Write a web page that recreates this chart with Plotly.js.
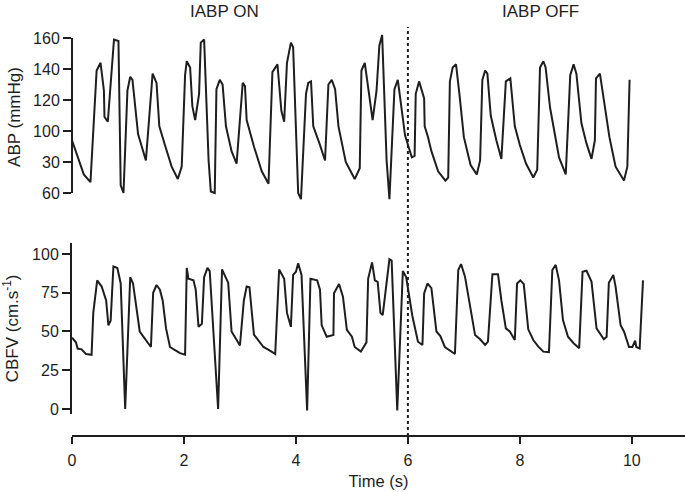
<!DOCTYPE html>
<html>
<head>
<meta charset="utf-8">
<script src="https://cdn.plot.ly/plotly-3.0.1.min.js"></script>
<style>
  html, body { margin: 0; padding: 0; background: #fff; }
  #chart { width: 685px; height: 492px; }
</style>
</head>
<body>
<div id="chart"></div>
<script>
// ABP trace (mmHg) against time (s)
const abpTime = [0, 0.21, 0.33, 0.44, 0.51, 0.57, 0.58, 0.64, 0.75, 0.83, 0.87, 0.92, 0.99, 1.04, 1.08, 1.18, 1.32,
  1.44, 1.51, 1.56, 1.66, 1.78, 1.89, 1.96, 2.02, 2.05, 2.11, 2.15, 2.20, 2.27, 2.30, 2.36, 2.44, 2.48, 2.55,
  2.58, 2.64, 2.69, 2.75, 2.85, 2.94, 3.05, 3.09, 3.12, 3.25, 3.39, 3.51, 3.58, 3.67, 3.74, 3.79, 3.84, 3.91,
  3.95, 4.04, 4.09, 4.18, 4.22, 4.27, 4.31, 4.42, 4.52, 4.58, 4.64, 4.70, 4.76, 4.89, 5.05, 5.14, 5.17, 5.23,
  5.29, 5.37, 5.44, 5.49, 5.54, 5.62, 5.67, 5.76, 5.82, 5.87, 5.95, 6.07, 6.12, 6.14, 6.20, 6.29, 6.30, 6.36,
  6.42, 6.54, 6.67, 6.72, 6.75, 6.80, 6.86, 6.92, 7.00, 7.12, 7.23, 7.29, 7.33, 7.38, 7.42, 7.48, 7.58, 7.67,
  7.75, 7.83, 7.91, 8.00, 8.11, 8.24, 8.31, 8.36, 8.42, 8.46, 8.54, 8.70, 8.82, 8.90, 8.96, 9.01, 9.10, 9.19,
  9.28, 9.34, 9.36, 9.43, 9.50, 9.60, 9.71, 9.86, 9.92, 9.96];
const abpValues = [94, 72, 67, 139, 144, 126, 109, 106, 159, 158, 65, 60, 126, 135, 133, 98, 81,
  137, 131, 103, 91, 77, 69, 77, 136, 145, 141, 116, 107, 124, 157, 159, 81, 61, 60,
  127, 133, 130, 103, 87, 79, 131, 129, 107, 90, 74, 66, 138, 143, 113, 106, 144, 157,
  154, 60, 56, 124, 131, 132, 103, 92, 81, 130, 133, 127, 103, 80, 69, 76, 139, 144,
  129, 107, 126, 155, 162, 81, 56, 127, 133, 120, 97, 83, 84, 124, 132, 121, 103, 96,
  87, 74, 68, 70, 132, 141, 143, 124, 96, 78, 72, 81, 133, 139, 137, 110, 94, 82,
  132, 134, 103, 91, 79, 70, 75, 141, 145, 141, 115, 83, 72, 136, 143, 137, 105, 92,
  82, 94, 134, 137, 120, 96, 77, 68, 77, 133];

// CBFV trace (cm/s) against time (s)
const cbfvTime = [0, 0.07, 0.10, 0.17, 0.25, 0.35, 0.38, 0.45, 0.53, 0.61, 0.65, 0.69, 0.74, 0.81, 0.87, 0.95,
  1.04, 1.09, 1.21, 1.38, 1.41, 1.45, 1.51, 1.57, 1.62, 1.68, 1.75, 1.84, 1.93, 2.02, 2.05, 2.08, 2.17, 2.21,
  2.26, 2.32, 2.36, 2.42, 2.46, 2.61, 2.68, 2.79, 2.85, 3.00, 3.07, 3.12, 3.17, 3.25, 3.36, 3.42, 3.52, 3.63,
  3.70, 3.79, 3.84, 3.91, 3.95, 4.00, 4.04, 4.10, 4.20, 4.26, 4.38, 4.43, 4.46, 4.55, 4.67, 4.68, 4.77, 4.84,
  4.91, 5.00, 5.05, 5.16, 5.26, 5.29, 5.36, 5.41, 5.46, 5.51, 5.55, 5.67, 5.71, 5.81, 5.91, 5.97, 6.08, 6.18,
  6.26, 6.29, 6.35, 6.42, 6.51, 6.58, 6.66, 6.75, 6.84, 6.90, 6.95, 7.02, 7.12, 7.20, 7.29, 7.38, 7.43, 7.51,
  7.61, 7.67, 7.75, 7.82, 7.91, 7.95, 8.01, 8.07, 8.15, 8.24, 8.33, 8.42, 8.52, 8.58, 8.64, 8.70, 8.77, 8.86,
  8.96, 9.06, 9.12, 9.19, 9.28, 9.37, 9.50, 9.55, 9.59, 9.67, 9.71, 9.80, 9.86, 9.95, 10.01, 10.06, 10.08,
  10.14, 10.20];
const cbfvValues = [46, 43, 39, 38.5, 35.5, 35, 62, 83, 79, 70, 54, 57, 92, 91, 81, 0,
  85, 81, 50, 41, 40, 75, 80, 77, 70, 52, 40, 38, 36, 35, 91, 84, 83, 77,
  53, 55, 85, 91, 89, 0, 90, 81.5, 50, 41, 70, 79, 78.5, 48, 43, 40, 38, 35.5,
  90, 84, 62, 53, 86.5, 88.6, 94, 86.5, -1, 84, 83, 77, 54, 46.6, 47.7, 74.6, 80.6, 72.5,
  51, 46.6, 40, 37, 43, 84, 94.6, 83, 82, 62, 60.6, 96.6, 95.7, -1, 89, 85, 60, 43.4,
  41.3, 74.6, 81, 78, 50, 47, 40, 37.6, 35.5, 89.7, 93.5, 85.4, 64, 47.7, 45, 41.3, 43.4, 87,
  87, 70, 52, 50, 44.5, 81, 83, 80.6, 51.4, 44.5, 40.2, 37, 36.6, 89.7, 93, 83, 57.4, 46.6,
  42.4, 39.2, 88.6, 89.2, 82.2, 52, 45, 46.6, 81.5, 86.5, 79, 54, 50, 40, 40, 44, 40,
  39, 83];

const abpTickVals = [60, 80, 100, 120, 140, 160];
const abpTickText = ["60", "30", "100", "120", "140", "160"];
const cbfvTickVals = [0, 25, 50, 75, 100];
const timeTickVals = [0, 2, 4, 6, 8, 10];

const ink = "#1e1e1e";
const abpRange = [53, 165];
const abpDomain = [0.5676, 0.9921];

// paper y for a value on the top (ABP) axis
function abpPaper(v) {
  return abpDomain[0] + (v - abpRange[0]) / (abpRange[1] - abpRange[0]) * (abpDomain[1] - abpDomain[0]);
}

const yStyle = {
  showgrid: false,
  zeroline: false,
  ticks: "outside",
  ticklen: 8,
  tickwidth: 2,
  tickcolor: ink,
  tickfont: { size: 16, color: ink },
  linecolor: ink,
  linewidth: 2
};

Plotly.newPlot("chart", [
  {
    x: abpTime,
    y: abpValues,
    type: "scatter",
    mode: "lines",
    line: { color: ink, width: 2 },
    xaxis: "x",
    yaxis: "y",
    hoverinfo: "skip"
  },
  {
    x: cbfvTime,
    y: cbfvValues,
    type: "scatter",
    mode: "lines",
    line: { color: ink, width: 2 },
    xaxis: "x",
    yaxis: "y2",
    hoverinfo: "skip"
  }
], {
  width: 685,
  height: 492,
  margin: { l: 72, r: 0, t: 27, b: 56 },
  paper_bgcolor: "#fff",
  plot_bgcolor: "#fff",
  font: { family: "Liberation Sans, Arial, sans-serif", color: ink, size: 16 },
  showlegend: false,
  xaxis: {
    range: [0, 10.95],
    anchor: "free",
    position: 0,
    showgrid: false,
    zeroline: false,
    showline: true,
    linecolor: ink,
    linewidth: 2,
    ticks: "outside",
    ticklen: 7,
    tickwidth: 2,
    tickcolor: ink,
    tickvals: timeTickVals,
    ticklabelstandoff: 3,
    tickfont: { size: 16, color: ink },
    title: { text: "Time (s)", font: { size: 16.5, color: ink }, standoff: 6 }
  },
  yaxis: Object.assign({}, yStyle, {
    domain: abpDomain,
    range: abpRange,
    showline: false,
    tickvals: abpTickVals,
    ticktext: abpTickText,
    title: { text: "ABP (mmHg)", font: { size: 17, color: ink }, standoff: 8 }
  }),
  yaxis2: Object.assign({}, yStyle, {
    domain: [0.0547, 0.4715],
    range: [-3, 107],
    showline: true,
    tickvals: cbfvTickVals,
    title: { text: "CBFV (cm.s<sup>-1</sup>)", font: { size: 17, color: ink }, standoff: 10 }
  }),
  shapes: [
    {
      type: "line", xref: "paper", yref: "paper",
      x0: 0, x1: 0, y0: abpPaper(abpTickVals[0]), y1: abpPaper(abpTickVals[abpTickVals.length - 1]),
      line: { color: ink, width: 2 }
    },
    {
      type: "line", xref: "x", yref: "paper",
      x0: 6, x1: 6, y0: 0, y1: 1,
      line: { color: ink, width: 2, dash: "dot" }
    }
  ],
  annotations: [
    { text: "IABP ON", xref: "x", yref: "paper", x: 2.73, y: 1.037, showarrow: false,
      yanchor: "middle", font: { size: 17, color: ink } },
    { text: "IABP OFF", xref: "x", yref: "paper", x: 8.36, y: 1.037, showarrow: false,
      yanchor: "middle", font: { size: 17, color: ink } }
  ]
}, { displayModeBar: false, staticPlot: true });
</script>
</body>
</html>
